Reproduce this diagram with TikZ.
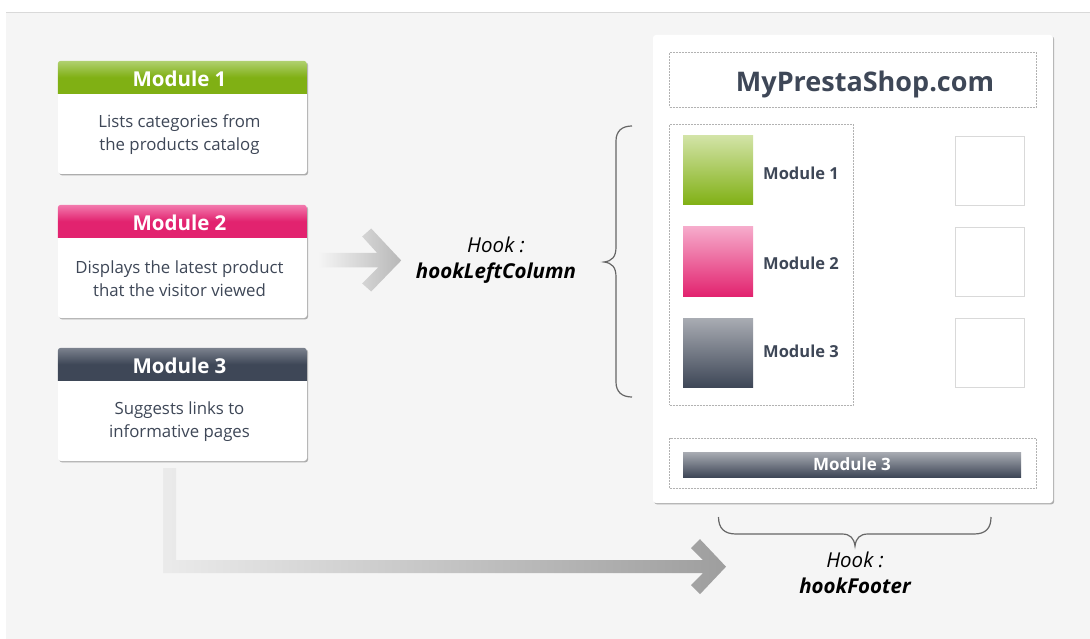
\documentclass[tikz,border=0pt]{standalone}
\usepackage{fontspec}
\setmainfont{Open Sans}
\usetikzlibrary{calc,shadows}

\definecolor{slate}{HTML}{3E4757}
\definecolor{panelgray}{HTML}{F5F5F5}
\definecolor{greenA}{HTML}{80B014}
\definecolor{greenB}{HTML}{B0D070}
\definecolor{greenC}{HTML}{D2E3A6}
\definecolor{pinkA}{HTML}{E2236F}
\definecolor{pinkB}{HTML}{F27AAE}
\definecolor{pinkC}{HTML}{F6ABCB}
\definecolor{slateB}{HTML}{7C828E}
\definecolor{slateC}{HTML}{A9ACB3}

\tikzset{
	softshadow/.style={drop shadow={shadow xshift=1.2pt,shadow yshift=-1.4pt,opacity=0.5,fill=black!60}},
	cardbody/.style={fill=white,rounded corners=3pt,minimum width=249pt,minimum height=113pt,inner sep=0pt,softshadow},
	cardtitle/.style={text=white,font=\fontsize{20.5}{24}\selectfont\bfseries,inner sep=0pt},
	cardtext/.style={text=slate,font=\fontsize{16.8}{23}\selectfont,align=center,inner sep=0pt},
	dashbox/.style={draw=black!30,line width=0.7pt,dash pattern=on 2pt off 1pt,inner sep=0pt},
	slotbox/.style={draw=black!15,fill=white,line width=0.8pt,minimum width=69.5pt,minimum height=69pt,inner sep=0pt},
	swatch/.style={minimum width=70pt,minimum height=69pt,inner sep=0pt},
	swatchlabel/.style={text=slate,font=\fontsize{16.5}{20}\selectfont\bfseries,inner sep=0pt,anchor=west},
	hooktext/.style={text=black,font=\fontsize{20.5}{26}\selectfont\itshape,align=center,inner sep=0pt},
	hookbrace/.style={draw=black!60,line width=1.2pt}
}

\begin{document}
\begin{tikzpicture}[x=1pt,y=-1pt]
	\useasboundingbox (0,0) rectangle (1090,639);
	\fill[white] (0,0) rectangle (1090,639);
	\fill[panelgray] (6,13) rectangle (1090,639);
	\draw[black!15,line width=0.8pt] (6,12.5) -- (1090,12.5);

	% cards on the left
	\foreach \y/\n/\col/\top/\txt in {
		117.5/1/greenA/greenB/{Lists categories from\\the products catalog},
		261.5/2/pinkA/pinkB/{Displays the latest product\\that the visitor viewed},
		404.5/3/slate/slateB/{Suggests links to\\informative pages}}{
		\node[cardbody] (card\n) at (182.5,\y) {};
		\shade[top color=\top,bottom color=\col,middle color=\col,rounded corners=3pt]
			(card\n.north west) -- ++(249,0) [sharp corners] -- ++(0,33) -- ++(-249,0) [rounded corners=3pt] -- cycle;
		\node[cardtitle] (title\n) at ($(card\n.north)+(-3,18)$) {Module \n};
		\node[cardtext] (text\n) at ($(card\n.north)+(-3,73.5)$) {\txt};
	}

	% page on the right
	\node[cardbody,minimum width=400pt,minimum height=468pt] (page) at (853,269) {};
	\node[dashbox,minimum width=367pt,minimum height=54.5pt] (header) at (853,79.75) {};
	\node[text=slate,font=\fontsize{27}{32}\selectfont\bfseries,inner sep=0pt] (shop) at (865,84) {MyPrestaShop.com};
	\node[dashbox,minimum width=183.5pt,minimum height=280.5pt] (column) at (761.25,264.75) {};
	\node[dashbox,minimum width=367pt,minimum height=49.5pt] (footer) at (853,463.25) {};

	\foreach \y/\n/\col/\top/\dy in {170.5/1/greenA/greenC/2.5,261.5/2/pinkA/pinkC/1.5,352.5/3/slate/slateC/-1.5}{
		\node[swatch,top color=\top,bottom color=\col] (swatch\n) at (718,\y) {};
		\node[swatchlabel] (label\n) at (763,\y+\dy) {Module \n};
		\node[slotbox] (slot\n) at (989.75,\y) {};
	}
	\node[swatch,minimum width=338pt,minimum height=25pt,top color=slateC,bottom color=slate,text=white,font=\fontsize{17}{20}\selectfont\bfseries] (bar) at (852,464.5) {Module 3};

	% hooks
	\node[hooktext] (hookleft) at (496,260) {Hook :\\\textbf{hookLeftColumn}};
	\node[hooktext] (hookfoot) at (855,573) {Hook :\\\textbf{hookFooter}};

	\coordinate (bracea) at (632,126);
	\coordinate (braceb) at (632,397);
	\coordinate (bracec) at (718.5,517);
	\coordinate (braced) at (991,517);
	\draw[hookbrace] (bracea) .. controls (622,126) and (616,131) .. (616,141) -- (616,247)
		.. controls (616,257) and (612,261) .. (604,262) .. controls (612,263) and (616,267) .. (616,277)
		-- (616,382) .. controls (616,392) and (622,397) .. (braceb);
	\draw[hookbrace] (bracec) .. controls (718.5,528) and (724,534) .. (736,534) -- (842,534)
		.. controls (850,534) and (854,538) .. (855,546) .. controls (856,538) and (860,534) .. (868,534)
		-- (974,534) .. controls (986,534) and (991,528) .. (braced);

	% arrows
	\coordinate (arrowa) at ($(card2.east)+(11,-1)$);
	\coordinate (arrowb) at ($(card3.south)+(-19.5,7)$);
	\shade[left color=panelgray,right color=black!28] (arrowa) ++(0,-7.5) -- ++(59,0) -- ++(-15,-16.5) -- ++(9,-8)
		-- ++(30,32) -- ++(-30,31) -- ++(-9,-8) -- ++(16,-16) -- ++(-60,0) -- cycle;
	\shade[left color=black!8,right color=black!38] (arrowb) -- ++(13,0) -- ++(0,92) -- ++(527,0) -- ++(-12,-12) -- ++(9,-9)
		-- ++(26,27.5) -- ++(-26,27.5) -- ++(-9,-9) -- ++(12,-12) -- ++(-540,0) -- cycle;
\end{tikzpicture}
\end{document}
